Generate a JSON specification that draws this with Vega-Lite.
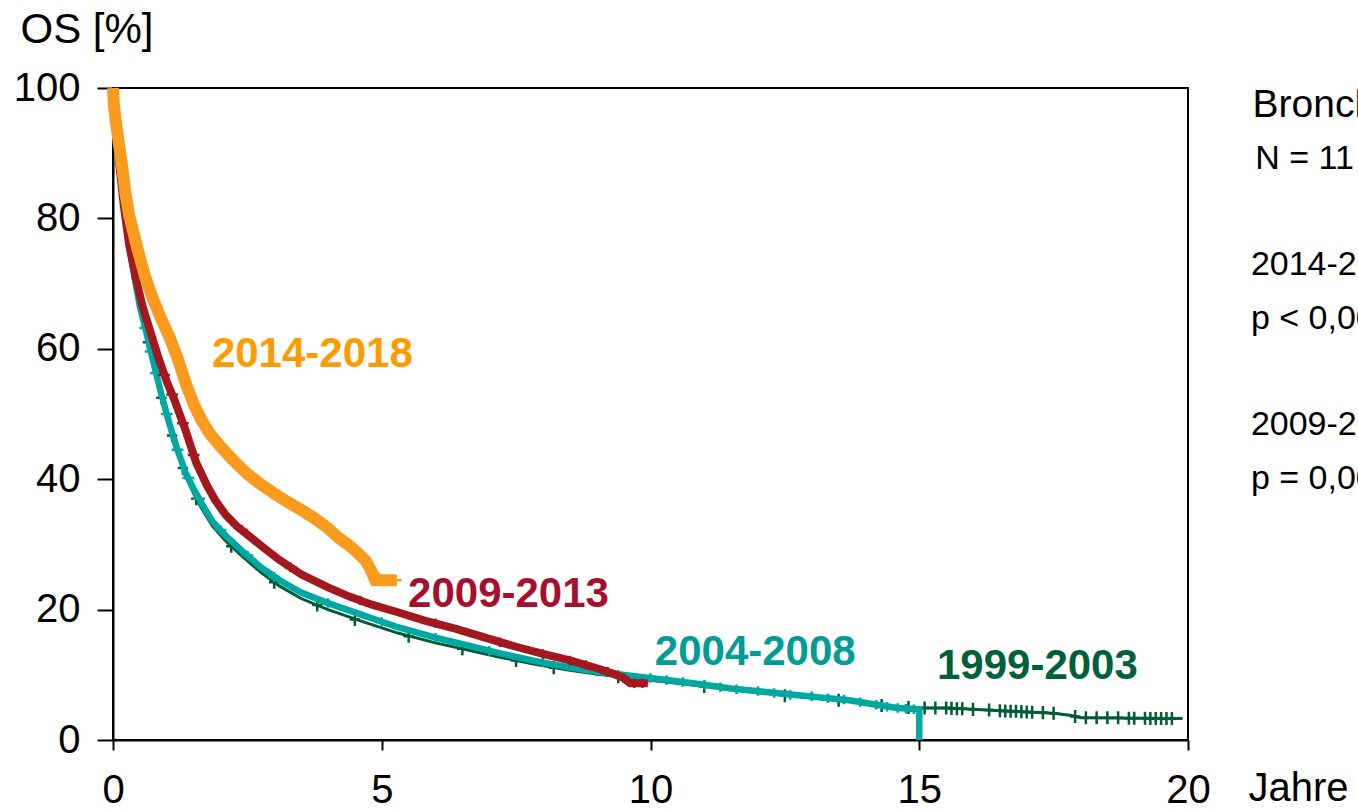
{
  "$schema": "https://vega.github.io/schema/vega-lite/v6.json",
  "width": 1075,
  "height": 652,
  "autosize": {"type": "none"},
  "padding": {"left": 113, "top": 88, "right": 170, "bottom": 69},
  "background": "white",
  "config": {
    "font": "Liberation Sans",
    "view": {"stroke": "black", "strokeWidth": 2},
    "axis": {"domainColor": "black", "domainWidth": 2, "tickColor": "black", "tickWidth": 2, "labelColor": "black", "titleColor": "black", "grid": false, "labelFont": "Liberation Sans", "titleFont": "Liberation Sans", "titleFontWeight": "normal", "labelFontSize": 40, "titleFontSize": 40}
  },
  "datasets": {
    "curves": [
      {"g":"2014-2018","t":0,"s":100},{"g":"2014-2018","t":0.02,"s":97},{"g":"2014-2018","t":0.05,"s":95},{"g":"2014-2018","t":0.1,"s":92},{"g":"2014-2018","t":0.17,"s":88},{"g":"2014-2018","t":0.23,"s":84},{"g":"2014-2018","t":0.3,"s":80.5},{"g":"2014-2018","t":0.45,"s":75.5},{"g":"2014-2018","t":0.6,"s":71},{"g":"2014-2018","t":0.75,"s":67.5},{"g":"2014-2018","t":0.9,"s":64.5},{"g":"2014-2018","t":1.05,"s":61.8},{"g":"2014-2018","t":1.2,"s":58.6},{"g":"2014-2018","t":1.35,"s":54.8},{"g":"2014-2018","t":1.5,"s":51.5},{"g":"2014-2018","t":1.65,"s":49},{"g":"2014-2018","t":1.8,"s":47},{"g":"2014-2018","t":2.0,"s":45},{"g":"2014-2018","t":2.25,"s":42.8},{"g":"2014-2018","t":2.5,"s":40.8},{"g":"2014-2018","t":2.75,"s":39.2},{"g":"2014-2018","t":3.0,"s":37.8},{"g":"2014-2018","t":3.25,"s":36.5},{"g":"2014-2018","t":3.5,"s":35.3},{"g":"2014-2018","t":3.75,"s":34},{"g":"2014-2018","t":4.0,"s":32.5},{"g":"2014-2018","t":4.2,"s":31},{"g":"2014-2018","t":4.4,"s":29.8},{"g":"2014-2018","t":4.55,"s":28.7},{"g":"2014-2018","t":4.7,"s":27.5},{"g":"2014-2018","t":4.8,"s":26},{"g":"2014-2018","t":4.88,"s":24.5},{"g":"2014-2018","t":5.28,"s":24.5},
      {"g":"2009-2013","t":0,"s":100},{"g":"2009-2013","t":0.05,"s":95},{"g":"2009-2013","t":0.12,"s":88},{"g":"2009-2013","t":0.2,"s":82},{"g":"2009-2013","t":0.3,"s":76},{"g":"2009-2013","t":0.42,"s":71},{"g":"2009-2013","t":0.55,"s":66.5},{"g":"2009-2013","t":0.7,"s":62.5},{"g":"2009-2013","t":0.85,"s":58.5},{"g":"2009-2013","t":1.0,"s":55},{"g":"2009-2013","t":1.15,"s":52},{"g":"2009-2013","t":1.35,"s":47.5},{"g":"2009-2013","t":1.55,"s":42.5},{"g":"2009-2013","t":1.75,"s":39},{"g":"2009-2013","t":1.9,"s":36.8},{"g":"2009-2013","t":2.1,"s":34.5},{"g":"2009-2013","t":2.3,"s":32.8},{"g":"2009-2013","t":2.5,"s":31.5},{"g":"2009-2013","t":2.8,"s":29.5},{"g":"2009-2013","t":3.1,"s":27.6},{"g":"2009-2013","t":3.5,"s":25.4},{"g":"2009-2013","t":4.0,"s":23.4},{"g":"2009-2013","t":4.4,"s":22},{"g":"2009-2013","t":4.8,"s":20.8},{"g":"2009-2013","t":5.3,"s":19.6},{"g":"2009-2013","t":5.8,"s":18.3},{"g":"2009-2013","t":6.4,"s":17},{"g":"2009-2013","t":7.0,"s":15.5},{"g":"2009-2013","t":7.5,"s":14.3},{"g":"2009-2013","t":8.0,"s":13.2},{"g":"2009-2013","t":8.5,"s":12.2},{"g":"2009-2013","t":9.0,"s":11},{"g":"2009-2013","t":9.3,"s":10.2},{"g":"2009-2013","t":9.5,"s":9.5},{"g":"2009-2013","t":9.62,"s":8.7},{"g":"2009-2013","t":9.95,"s":8.7},
      {"g":"2004-2008","t":0,"s":100},{"g":"2004-2008","t":0.05,"s":95},{"g":"2004-2008","t":0.12,"s":88},{"g":"2004-2008","t":0.2,"s":82},{"g":"2004-2008","t":0.3,"s":76},{"g":"2004-2008","t":0.4,"s":71},{"g":"2004-2008","t":0.5,"s":66.5},{"g":"2004-2008","t":0.62,"s":62.5},{"g":"2004-2008","t":0.75,"s":58},{"g":"2004-2008","t":0.9,"s":53},{"g":"2004-2008","t":1.05,"s":48.5},{"g":"2004-2008","t":1.2,"s":44.5},{"g":"2004-2008","t":1.35,"s":41},{"g":"2004-2008","t":1.5,"s":38.5},{"g":"2004-2008","t":1.65,"s":36.3},{"g":"2004-2008","t":1.85,"s":33.5},{"g":"2004-2008","t":2.1,"s":31.3},{"g":"2004-2008","t":2.4,"s":29},{"g":"2004-2008","t":2.75,"s":26.5},{"g":"2004-2008","t":3.1,"s":24.5},{"g":"2004-2008","t":3.5,"s":22.6},{"g":"2004-2008","t":4.0,"s":21},{"g":"2004-2008","t":4.7,"s":19},{"g":"2004-2008","t":5.3,"s":17.3},{"g":"2004-2008","t":6.0,"s":15.7},{"g":"2004-2008","t":6.6,"s":14.5},{"g":"2004-2008","t":7.2,"s":13.3},{"g":"2004-2008","t":7.8,"s":12.2},{"g":"2004-2008","t":8.5,"s":11.1},{"g":"2004-2008","t":9.1,"s":10.4},{"g":"2004-2008","t":9.7,"s":9.8},{"g":"2004-2008","t":10.3,"s":9.2},{"g":"2004-2008","t":10.9,"s":8.6},{"g":"2004-2008","t":11.5,"s":7.9},{"g":"2004-2008","t":12.1,"s":7.4},{"g":"2004-2008","t":12.7,"s":6.9},{"g":"2004-2008","t":13.2,"s":6.5},{"g":"2004-2008","t":13.7,"s":6.1},{"g":"2004-2008","t":14.2,"s":5.4},{"g":"2004-2008","t":14.6,"s":4.9},{"g":"2004-2008","t":15.0,"s":4.7},{"g":"2004-2008","t":15.0,"s":0},
      {"g":"1999-2003","t":0,"s":100},{"g":"1999-2003","t":0.05,"s":95},{"g":"1999-2003","t":0.12,"s":88},{"g":"1999-2003","t":0.2,"s":82},{"g":"1999-2003","t":0.3,"s":76},{"g":"1999-2003","t":0.4,"s":71},{"g":"1999-2003","t":0.5,"s":66.5},{"g":"1999-2003","t":0.62,"s":62},{"g":"1999-2003","t":0.75,"s":57.5},{"g":"1999-2003","t":0.9,"s":52.5},{"g":"1999-2003","t":1.05,"s":48},{"g":"1999-2003","t":1.2,"s":44},{"g":"1999-2003","t":1.35,"s":40.5},{"g":"1999-2003","t":1.5,"s":37.8},{"g":"1999-2003","t":1.65,"s":35.5},{"g":"1999-2003","t":1.85,"s":32.8},{"g":"1999-2003","t":2.1,"s":30.5},{"g":"1999-2003","t":2.4,"s":28.2},{"g":"1999-2003","t":2.75,"s":25.7},{"g":"1999-2003","t":3.1,"s":23.6},{"g":"1999-2003","t":3.5,"s":21.7},{"g":"1999-2003","t":4.0,"s":20},{"g":"1999-2003","t":4.7,"s":18},{"g":"1999-2003","t":5.3,"s":16.4},{"g":"1999-2003","t":6.0,"s":14.9},{"g":"1999-2003","t":6.6,"s":13.8},{"g":"1999-2003","t":7.2,"s":12.7},{"g":"1999-2003","t":7.8,"s":11.7},{"g":"1999-2003","t":8.5,"s":10.7},{"g":"1999-2003","t":9.1,"s":10.0},{"g":"1999-2003","t":9.7,"s":9.4},{"g":"1999-2003","t":10.3,"s":8.9},{"g":"1999-2003","t":10.9,"s":8.3},{"g":"1999-2003","t":11.5,"s":7.7},{"g":"1999-2003","t":12.1,"s":7.2},{"g":"1999-2003","t":12.7,"s":6.7},{"g":"1999-2003","t":13.2,"s":6.3},{"g":"1999-2003","t":13.7,"s":5.9},{"g":"1999-2003","t":14.2,"s":5.4},{"g":"1999-2003","t":14.6,"s":5.0},{"g":"1999-2003","t":15.0,"s":4.9},{"g":"1999-2003","t":15.5,"s":4.9},{"g":"1999-2003","t":16.0,"s":4.7},{"g":"1999-2003","t":16.5,"s":4.5},{"g":"1999-2003","t":17.0,"s":4.3},{"g":"1999-2003","t":17.5,"s":4.1},{"g":"1999-2003","t":17.8,"s":3.8},{"g":"1999-2003","t":18.0,"s":3.4},{"g":"1999-2003","t":19.9,"s":3.3}
    ],
    "censor": [
      {"g":"2014-2018","t":1.6,"s":49.8},{"g":"2014-2018","t":1.9,"s":46},{"g":"2014-2018","t":2.2,"s":43.2},{"g":"2014-2018","t":2.6,"s":40.2},{"g":"2014-2018","t":2.9,"s":38.4},{"g":"2014-2018","t":3.3,"s":36.3},{"g":"2014-2018","t":3.6,"s":35},{"g":"2014-2018","t":3.8,"s":34},{"g":"2014-2018","t":4.0,"s":32.5},{"g":"2014-2018","t":4.3,"s":30.5},{"g":"2014-2018","t":4.5,"s":29.2},{"g":"2014-2018","t":4.7,"s":27.5},{"g":"2014-2018","t":4.85,"s":25.5},{"g":"2014-2018","t":4.95,"s":24.5},{"g":"2014-2018","t":5.1,"s":24.5},{"g":"2014-2018","t":5.25,"s":24.5},
      {"g":"2009-2013","t":0.95,"s":56},{"g":"2009-2013","t":1.1,"s":53},{"g":"2009-2013","t":1.3,"s":48.6},{"g":"2009-2013","t":1.5,"s":43.7},{"g":"2009-2013","t":2.4,"s":32.2},{"g":"2009-2013","t":3.3,"s":26.5},{"g":"2009-2013","t":4.6,"s":21.4},{"g":"2009-2013","t":6.0,"s":17.9},{"g":"2009-2013","t":7.2,"s":15},{"g":"2009-2013","t":8.0,"s":13.2},{"g":"2009-2013","t":8.5,"s":12.2},{"g":"2009-2013","t":8.8,"s":11.5},{"g":"2009-2013","t":9.2,"s":10.5},{"g":"2009-2013","t":9.5,"s":9.5},{"g":"2009-2013","t":9.7,"s":8.7},{"g":"2009-2013","t":9.85,"s":8.7},
      {"g":"2004-2008","t":0.6,"s":63.2},{"g":"2004-2008","t":0.7,"s":59.6},{"g":"2004-2008","t":0.8,"s":56.3},{"g":"2004-2008","t":1.0,"s":50},{"g":"2004-2008","t":1.2,"s":44.5},{"g":"2004-2008","t":1.4,"s":40.2},{"g":"2004-2008","t":1.6,"s":37},{"g":"2004-2008","t":2.0,"s":32.2},{"g":"2004-2008","t":2.5,"s":28.3},{"g":"2004-2008","t":3.0,"s":25},{"g":"2004-2008","t":4.0,"s":21},{"g":"2004-2008","t":5.0,"s":18.1},{"g":"2004-2008","t":6.0,"s":15.7},{"g":"2004-2008","t":7.0,"s":13.7},{"g":"2004-2008","t":8.0,"s":11.9},{"g":"2004-2008","t":9.0,"s":10.5},{"g":"2004-2008","t":10.0,"s":9.5},{"g":"2004-2008","t":10.3,"s":9.2},{"g":"2004-2008","t":10.6,"s":8.9},{"g":"2004-2008","t":11.0,"s":8.5},{"g":"2004-2008","t":11.3,"s":8.1},{"g":"2004-2008","t":11.6,"s":7.8},{"g":"2004-2008","t":12.0,"s":7.5},{"g":"2004-2008","t":12.3,"s":7.2},{"g":"2004-2008","t":12.6,"s":6.9},{"g":"2004-2008","t":13.0,"s":6.7},{"g":"2004-2008","t":13.3,"s":6.4},{"g":"2004-2008","t":13.6,"s":6.2},{"g":"2004-2008","t":13.9,"s":5.8},{"g":"2004-2008","t":14.2,"s":5.4},{"g":"2004-2008","t":14.4,"s":5.1},{"g":"2004-2008","t":14.6,"s":4.9},{"g":"2004-2008","t":14.75,"s":4.8},{"g":"2004-2008","t":14.9,"s":4.7},
      {"g":"1999-2003","t":0.65,"s":61},{"g":"1999-2003","t":0.9,"s":52.5},{"g":"1999-2003","t":1.1,"s":46.7},{"g":"1999-2003","t":1.3,"s":41.7},{"g":"1999-2003","t":1.55,"s":37},{"g":"1999-2003","t":2.2,"s":29.7},{"g":"1999-2003","t":3.0,"s":24.2},{"g":"1999-2003","t":3.8,"s":20.7},{"g":"1999-2003","t":4.5,"s":18.5},{"g":"1999-2003","t":5.5,"s":15.9},{"g":"1999-2003","t":6.5,"s":14},{"g":"1999-2003","t":7.5,"s":12.2},{"g":"1999-2003","t":8.2,"s":11.1},{"g":"1999-2003","t":9.4,"s":9.7},{"g":"1999-2003","t":11.0,"s":8.2},{"g":"1999-2003","t":12.5,"s":6.8},{"g":"1999-2003","t":13.5,"s":6.1},{"g":"1999-2003","t":14.3,"s":5.3},{"g":"1999-2003","t":14.8,"s":5.0},
      {"g":"1999-2003","t":15.1,"s":4.9},{"g":"1999-2003","t":15.3,"s":4.9},{"g":"1999-2003","t":15.5,"s":4.9},{"g":"1999-2003","t":15.6,"s":4.85},{"g":"1999-2003","t":15.7,"s":4.8},{"g":"1999-2003","t":15.8,"s":4.8},{"g":"1999-2003","t":16.0,"s":4.7},{"g":"1999-2003","t":16.3,"s":4.6},{"g":"1999-2003","t":16.5,"s":4.5},{"g":"1999-2003","t":16.6,"s":4.45},{"g":"1999-2003","t":16.7,"s":4.4},{"g":"1999-2003","t":16.8,"s":4.4},{"g":"1999-2003","t":16.9,"s":4.35},{"g":"1999-2003","t":17.0,"s":4.3},{"g":"1999-2003","t":17.1,"s":4.25},{"g":"1999-2003","t":17.3,"s":4.2},{"g":"1999-2003","t":17.5,"s":4.1},{"g":"1999-2003","t":17.9,"s":3.6},{"g":"1999-2003","t":18.1,"s":3.4},{"g":"1999-2003","t":18.3,"s":3.4},{"g":"1999-2003","t":18.5,"s":3.4},{"g":"1999-2003","t":18.7,"s":3.4},{"g":"1999-2003","t":18.9,"s":3.35},{"g":"1999-2003","t":19.0,"s":3.35},{"g":"1999-2003","t":19.2,"s":3.35},{"g":"1999-2003","t":19.3,"s":3.3},{"g":"1999-2003","t":19.4,"s":3.3},{"g":"1999-2003","t":19.5,"s":3.3},{"g":"1999-2003","t":19.6,"s":3.3},{"g":"1999-2003","t":19.7,"s":3.3}
    ],
    "labels": [
      {"g":"2014-2018","text":"2014-2018","t":1.84,"s":57.2},
      {"g":"2009-2013","text":"2009-2013","t":5.49,"s":20.4},
      {"g":"2004-2008","text":"2004-2008","t":10.08,"s":11.5},
      {"g":"1999-2003","text":"1999-2003","t":15.33,"s":9.36}
    ],
    "notes": [
      {"text":"N = 11 563","t":21.25,"s":87.6},
      {"text":"2014-2018 vs. 2009-2013","t":21.17,"s":71.3},
      {"text":"p < 0,001","t":21.17,"s":63.0},
      {"text":"2009-2013 vs. 2004-2008","t":21.17,"s":46.8},
      {"text":"p = 0,003","t":21.17,"s":38.5}
    ],
    "heading": [
      {"text":"Bronchialkarzinom","t":21.2,"s":95.6}
    ]
  },
  "encoding": {
    "x": {"field": "t", "type": "quantitative", "scale": {"domain": [0, 20], "nice": false, "zero": false},
      "axis": {"values": [0, 5, 10, 15, 20], "tickSize": 10, "labelPadding": 20, "labelFlush": false, "labelOverlap": false, "title": "Jahre", "titleAngle": 0, "titleX": 1135, "titleY": 60, "titleAlign": "left", "titleBaseline": "alphabetic", "titleAnchor": null, "titleFontSize": 40}},
    "y": {"field": "s", "type": "quantitative", "scale": {"domain": [0, 100], "nice": false, "zero": true},
      "axis": {"values": [0, 20, 40, 60, 80, 100], "tickSize": 16, "labelPadding": 17, "labelFlush": false, "labelOverlap": false, "title": "OS [%]", "titleAngle": 0, "titleX": -93, "titleY": -46, "titleAlign": "left", "titleBaseline": "alphabetic", "titleAnchor": null, "titleFontSize": 42}}
  },
  "layer": [
    {"data": {"name": "curves"}, "transform": [{"filter": "datum.g == '1999-2003'"}], "mark": {"type": "line", "stroke": "#005C36", "strokeWidth": 3}},
    {"data": {"name": "censor"}, "transform": [{"filter": "datum.g == '1999-2003'"}], "mark": {"type": "point", "shape": "M-0.8,0H0.8M0,-1V1", "size": 170, "filled": false, "stroke": "#005C36", "strokeWidth": 2.5, "opacity": 1}},
    {"data": {"name": "curves"}, "transform": [{"filter": "datum.g == '2004-2008'"}], "mark": {"type": "line", "stroke": "#00A8A2", "strokeWidth": 6.5}},
    {"data": {"name": "censor"}, "transform": [{"filter": "datum.g == '2004-2008'"}], "mark": {"type": "point", "shape": "M-1,0H1M0,-0.8V0.8", "size": 140, "filled": false, "stroke": "#00A8A2", "strokeWidth": 2.5, "opacity": 1}},
    {"data": {"name": "curves"}, "transform": [{"filter": "datum.g == '2009-2013'"}], "mark": {"type": "line", "stroke": "#A3181F", "strokeWidth": 8}},
    {"data": {"name": "censor"}, "transform": [{"filter": "datum.g == '2009-2013'"}], "mark": {"type": "point", "shape": "M-1,0H1M0,-0.8V0.8", "size": 140, "filled": false, "stroke": "#A3181F", "strokeWidth": 2.5, "opacity": 1}},
    {"data": {"name": "curves"}, "transform": [{"filter": "datum.g == '2014-2018'"}], "mark": {"type": "line", "stroke": "#F99B1E", "strokeWidth": 12}},
    {"data": {"name": "censor"}, "transform": [{"filter": "datum.g == '2014-2018'"}], "mark": {"type": "point", "shape": "M-1,0H1M0,-0.8V0.8", "size": 160, "filled": false, "stroke": "#F99B1E", "strokeWidth": 2.5, "opacity": 1}},
    {"data": {"name": "labels"}, "mark": {"type": "text", "align": "left", "baseline": "alphabetic", "fontSize": 42, "fontWeight": "bold", "font": "Liberation Sans"},
      "encoding": {"text": {"field": "text"}, "color": {"field": "g", "type": "nominal", "legend": null, "scale": {"domain": ["2014-2018", "2009-2013", "2004-2008", "1999-2003"], "range": ["#FF9A00", "#A50F2B", "#009C97", "#00603B"]}}}},
    {"data": {"name": "notes"}, "mark": {"type": "text", "align": "left", "baseline": "alphabetic", "fontSize": 34, "color": "black", "font": "Liberation Sans"}, "encoding": {"text": {"field": "text"}}},
    {"data": {"name": "heading"}, "mark": {"type": "text", "align": "left", "baseline": "alphabetic", "fontSize": 39, "color": "black", "font": "Liberation Sans"}, "encoding": {"text": {"field": "text"}}}
  ]
}
